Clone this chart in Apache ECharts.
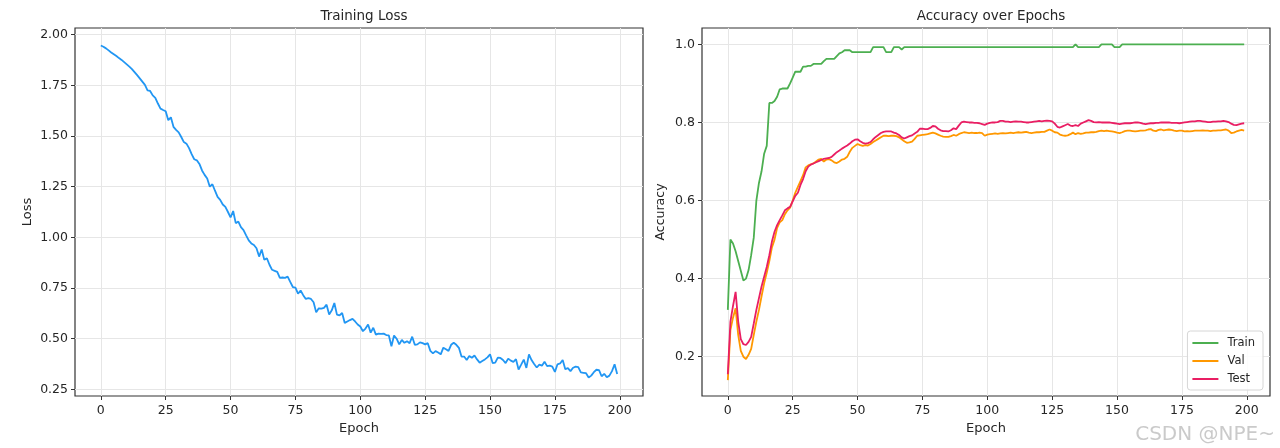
<!DOCTYPE html>
<html>
<head>
<meta charset="utf-8">
<script src="https://cdn.jsdelivr.net/npm/echarts@6/dist/echarts.min.js"></script>
<style>
html,body{margin:0;padding:0;background:#fff;}
#main{width:1280px;height:448px;}
</style>
</head>
<body>
<div id="main"></div>
<script>
// ---- data ----
const lossTitle = 'Training Loss';
const accTitle = 'Accuracy over Epochs';
const lossTicks = [0.25, 0.5, 0.75, 1.0, 1.25, 1.5, 1.75, 2.0];
const accTicks = [0.2, 0.4, 0.6, 0.8, 1.0];
const epochTicks = [0, 25, 50, 75, 100, 125, 150, 175, 200];

const loss = [
1.946,1.940,1.932,1.922,1.912,1.903,1.894,1.884,1.875,1.864,
1.853,1.842,1.830,1.815,1.800,1.784,1.768,1.752,1.725,1.722,
1.700,1.688,1.660,1.635,1.628,1.622,1.578,1.592,1.545,1.530,
1.518,1.495,1.470,1.462,1.440,1.410,1.385,1.380,1.362,1.330,
1.308,1.290,1.250,1.262,1.230,1.200,1.185,1.162,1.150,1.125,
1.098,1.130,1.070,1.078,1.050,1.036,1.010,0.985,0.970,0.962,
0.946,0.905,0.940,0.889,0.897,0.865,0.840,0.835,0.830,0.800,
0.802,0.800,0.806,0.780,0.755,0.752,0.722,0.738,0.715,0.696,
0.700,0.696,0.680,0.630,0.650,0.648,0.652,0.668,0.619,0.640,
0.676,0.619,0.615,0.627,0.578,0.585,0.592,0.598,0.585,0.570,
0.560,0.537,0.550,0.570,0.530,0.554,0.520,0.525,0.524,0.525,
0.518,0.516,0.463,0.516,0.500,0.472,0.494,0.480,0.488,0.478,
0.510,0.470,0.472,0.482,0.478,0.472,0.478,0.440,0.428,0.439,
0.432,0.423,0.456,0.448,0.440,0.470,0.480,0.470,0.455,0.412,
0.412,0.395,0.415,0.406,0.417,0.398,0.382,0.390,0.398,0.408,
0.423,0.380,0.382,0.407,0.405,0.395,0.380,0.402,0.392,0.386,
0.399,0.348,0.372,0.397,0.356,0.423,0.395,0.375,0.358,0.372,
0.367,0.386,0.365,0.367,0.362,0.336,0.374,0.378,0.395,0.350,
0.355,0.340,0.357,0.362,0.360,0.334,0.332,0.330,0.309,0.318,
0.335,0.347,0.345,0.315,0.327,0.310,0.318,0.340,0.374,0.326
];

const trainAcc = [
0.32,0.50,0.49,0.47,0.445,0.42,0.395,0.40,0.422,0.46,
0.505,0.60,0.645,0.675,0.72,0.74,0.85,0.85,0.855,0.866,
0.885,0.887,0.887,0.887,0.90,0.915,0.93,0.93,0.93,0.943,
0.943,0.945,0.945,0.95,0.95,0.95,0.95,0.957,0.963,0.963,
0.963,0.963,0.97,0.977,0.98,0.985,0.985,0.985,0.98,0.98,
0.98,0.98,0.98,0.98,0.98,0.98,0.993,0.993,0.993,0.993,
0.993,0.98,0.98,0.98,0.993,0.993,0.993,0.987,0.993,0.993,
0.993,0.993,0.993,0.993,0.993,0.993,0.993,0.993,0.993,0.993,
0.993,0.993,0.993,0.993,0.993,0.993,0.993,0.993,0.993,0.993,
0.993,0.993,0.993,0.993,0.993,0.993,0.993,0.993,0.993,0.993,
0.993,0.993,0.993,0.993,0.993,0.993,0.993,0.993,0.993,0.993,
0.993,0.993,0.993,0.993,0.993,0.993,0.993,0.993,0.993,0.993,
0.993,0.993,0.993,0.993,0.993,0.993,0.993,0.993,0.993,0.993,
0.993,0.993,0.993,0.993,1.0,0.993,0.993,0.993,0.993,0.993,
0.993,0.993,0.993,0.993,1.0,1.0,1.0,1.0,1.0,0.993,
0.993,0.993,1.0,1.0,1.0,1.0,1.0,1.0,1.0,1.0,
1.0,1.0,1.0,1.0,1.0,1.0,1.0,1.0,1.0,1.0,
1.0,1.0,1.0,1.0,1.0,1.0,1.0,1.0,1.0,1.0,
1.0,1.0,1.0,1.0,1.0,1.0,1.0,1.0,1.0,1.0,
1.0,1.0,1.0,1.0,1.0,1.0,1.0,1.0,1.0,1.0
];

const valAcc = [
0.14,0.268,0.30,0.324,0.256,0.215,0.20,0.194,0.205,0.22,
0.256,0.29,0.32,0.355,0.388,0.415,0.445,0.48,0.50,0.53,
0.544,0.55,0.565,0.575,0.582,0.60,0.62,0.635,0.65,0.665,
0.685,0.69,0.693,0.695,0.70,0.705,0.707,0.70,0.705,0.706,
0.703,0.698,0.696,0.70,0.705,0.707,0.712,0.725,0.735,0.74,
0.745,0.742,0.74,0.742,0.741,0.745,0.75,0.754,0.758,0.762,
0.766,0.766,0.765,0.766,0.766,0.765,0.762,0.757,0.752,0.748,
0.749,0.751,0.758,0.766,0.767,0.768,0.769,0.77,0.772,0.774,
0.772,0.769,0.766,0.764,0.763,0.763,0.765,0.768,0.766,0.77,
0.773,0.775,0.774,0.773,0.774,0.773,0.773,0.774,0.773,0.766,
0.769,0.77,0.771,0.772,0.771,0.772,0.773,0.772,0.773,0.774,
0.773,0.774,0.775,0.774,0.775,0.776,0.774,0.773,0.774,0.775,
0.775,0.776,0.776,0.779,0.782,0.779,0.775,0.774,0.769,0.767,
0.766,0.767,0.77,0.774,0.77,0.773,0.771,0.772,0.774,0.774,
0.775,0.775,0.776,0.778,0.779,0.778,0.779,0.778,0.777,0.776,
0.774,0.773,0.775,0.778,0.779,0.779,0.778,0.777,0.778,0.779,
0.779,0.78,0.782,0.783,0.779,0.778,0.781,0.782,0.78,0.781,
0.782,0.781,0.779,0.778,0.779,0.779,0.777,0.778,0.777,0.778,
0.779,0.779,0.779,0.78,0.779,0.779,0.778,0.779,0.779,0.78,
0.78,0.781,0.782,0.779,0.773,0.774,0.777,0.779,0.781,0.779
];

const testAcc = [
0.155,0.29,0.33,0.366,0.29,0.245,0.232,0.23,0.238,0.251,
0.285,0.32,0.35,0.38,0.405,0.43,0.46,0.495,0.52,0.537,
0.55,0.562,0.575,0.58,0.584,0.598,0.612,0.62,0.64,0.655,
0.675,0.687,0.692,0.695,0.698,0.701,0.704,0.707,0.708,0.709,
0.712,0.718,0.724,0.728,0.733,0.737,0.741,0.746,0.752,0.756,
0.757,0.752,0.748,0.746,0.747,0.75,0.757,0.763,0.768,0.773,
0.776,0.777,0.777,0.777,0.774,0.772,0.768,0.762,0.759,0.762,
0.765,0.767,0.772,0.776,0.784,0.784,0.783,0.783,0.786,0.791,
0.79,0.784,0.78,0.778,0.778,0.777,0.78,0.785,0.783,0.792,
0.8,0.802,0.801,0.8,0.8,0.799,0.799,0.798,0.796,0.794,
0.797,0.799,0.8,0.8,0.801,0.804,0.804,0.802,0.802,0.801,
0.802,0.803,0.802,0.802,0.801,0.8,0.8,0.801,0.802,0.803,
0.804,0.803,0.804,0.805,0.804,0.803,0.797,0.789,0.787,0.79,
0.793,0.796,0.792,0.791,0.793,0.791,0.797,0.8,0.803,0.806,
0.804,0.801,0.8,0.801,0.8,0.8,0.8,0.8,0.799,0.798,
0.797,0.796,0.797,0.798,0.798,0.798,0.799,0.8,0.8,0.799,
0.797,0.796,0.797,0.798,0.798,0.799,0.799,0.8,0.8,0.8,
0.8,0.799,0.799,0.799,0.798,0.799,0.8,0.801,0.802,0.803,
0.803,0.804,0.804,0.803,0.802,0.801,0.801,0.802,0.802,0.803,
0.803,0.804,0.803,0.801,0.797,0.794,0.793,0.795,0.797,0.798
];

// ---- chart ----
const FONT = '"DejaVu Sans", Lato, sans-serif';
const TXT = '#262626';
const pairs = arr => arr.map((v, i) => [i, v]);

function xAxisCfg(gridIndex) {
  return {
    type: 'value', gridIndex: gridIndex,
    min: -9.95, max: 208.95,
    name: 'Epoch', nameLocation: 'middle', nameGap: 24,
    nameTextStyle: {fontFamily: FONT, fontSize: 13, color: TXT},
    axisLine: {show: false, onZero: false},
    axisTick: {show: true, length: 4, lineStyle: {color: '#333', width: 1}, customValues: epochTicks},
    axisLabel: {fontFamily: FONT, fontSize: 12.5, color: TXT, margin: 8, customValues: epochTicks,
                formatter: v => String(Math.round(v))},
    splitLine: {show: true, lineStyle: {color: '#e6e6e6', width: 1}}
  };
}

const option = {
  backgroundColor: '#fff',
  animation: false,
  title: [
    {text: lossTitle, left: 359, top: 4, textAlign: 'center',
     textStyle: {fontFamily: FONT, fontSize: 13.5, fontWeight: 'normal', color: TXT}},
    {text: accTitle, left: 986, top: 4, textAlign: 'center',
     textStyle: {fontFamily: FONT, fontSize: 13.5, fontWeight: 'normal', color: TXT}}
  ],
  grid: [
    {left: 75, top: 28, width: 568, height: 368, show: true, borderColor: '#333', borderWidth: 1.2, backgroundColor: 'transparent'},
    {left: 702, top: 28, width: 568, height: 368, show: true, borderColor: '#333', borderWidth: 1.2, backgroundColor: 'transparent'}
  ],
  xAxis: [xAxisCfg(0), xAxisCfg(1)],
  yAxis: [
    {type: 'value', gridIndex: 0, min: 0.2175, max: 2.0325,
     name: 'Loss', nameLocation: 'middle', nameGap: 41,
     nameTextStyle: {fontFamily: FONT, fontSize: 13, color: TXT},
     axisLine: {show: false, onZero: false},
     axisTick: {show: true, length: 4, lineStyle: {color: '#333'}, customValues: lossTicks},
     axisLabel: {fontFamily: FONT, fontSize: 12.5, color: TXT, margin: 7, customValues: lossTicks,
                 formatter: v => v.toFixed(2)},
     splitLine: {show: true, lineStyle: {color: '#e6e6e6', width: 1}}},
    {type: 'value', gridIndex: 1, min: 0.0994, max: 1.042,
     name: 'Accuracy', nameLocation: 'middle', nameGap: 35,
     nameTextStyle: {fontFamily: FONT, fontSize: 12.5, color: TXT},
     axisLine: {show: false, onZero: false},
     axisTick: {show: true, length: 4, lineStyle: {color: '#333'}, customValues: accTicks},
     axisLabel: {fontFamily: FONT, fontSize: 12.5, color: TXT, margin: 7, customValues: accTicks,
                 formatter: v => v.toFixed(1)},
     splitLine: {show: true, lineStyle: {color: '#e6e6e6', width: 1}}}
  ],
  legend: {
    data: ['Train', 'Val', 'Test'],
    orient: 'vertical', right: 17, bottom: 58,
    icon: 'rect', itemWidth: 26, itemHeight: 2, itemGap: 6,
    padding: [6, 8, 5, 5],
    backgroundColor: 'rgba(255,255,255,0.85)',
    borderColor: '#d6d6d6', borderWidth: 1, borderRadius: 3,
    textStyle: {fontFamily: FONT, fontSize: 11.5, color: TXT, padding: [0, 0, 0, 4]}
  },
  graphic: [
    {type: 'text', right: 5, bottom: 3, z: 100,
     style: {text: 'CSDN @NPE~', fontFamily: FONT, fontSize: 20, fill: 'rgba(150,150,150,0.5)'}}
  ],
  series: [
    {type: 'line', name: 'Loss', xAxisIndex: 0, yAxisIndex: 0, data: pairs(loss),
     symbol: 'none', lineStyle: {color: '#2196F3', width: 1.8}, itemStyle: {color: '#2196F3'}},
    {type: 'line', name: 'Train', xAxisIndex: 1, yAxisIndex: 1, data: pairs(trainAcc),
     symbol: 'none', lineStyle: {color: '#4CAF50', width: 1.8}, itemStyle: {color: '#4CAF50'}},
    {type: 'line', name: 'Val', xAxisIndex: 1, yAxisIndex: 1, data: pairs(valAcc),
     symbol: 'none', lineStyle: {color: '#FF9800', width: 1.8}, itemStyle: {color: '#FF9800'}},
    {type: 'line', name: 'Test', xAxisIndex: 1, yAxisIndex: 1, data: pairs(testAcc),
     symbol: 'none', lineStyle: {color: '#E91E63', width: 1.8}, itemStyle: {color: '#E91E63'}}
  ]
};

const chart = echarts.init(document.getElementById('main'), null, {renderer: 'canvas'});
chart.setOption(option);
</script>
</body>
</html>
